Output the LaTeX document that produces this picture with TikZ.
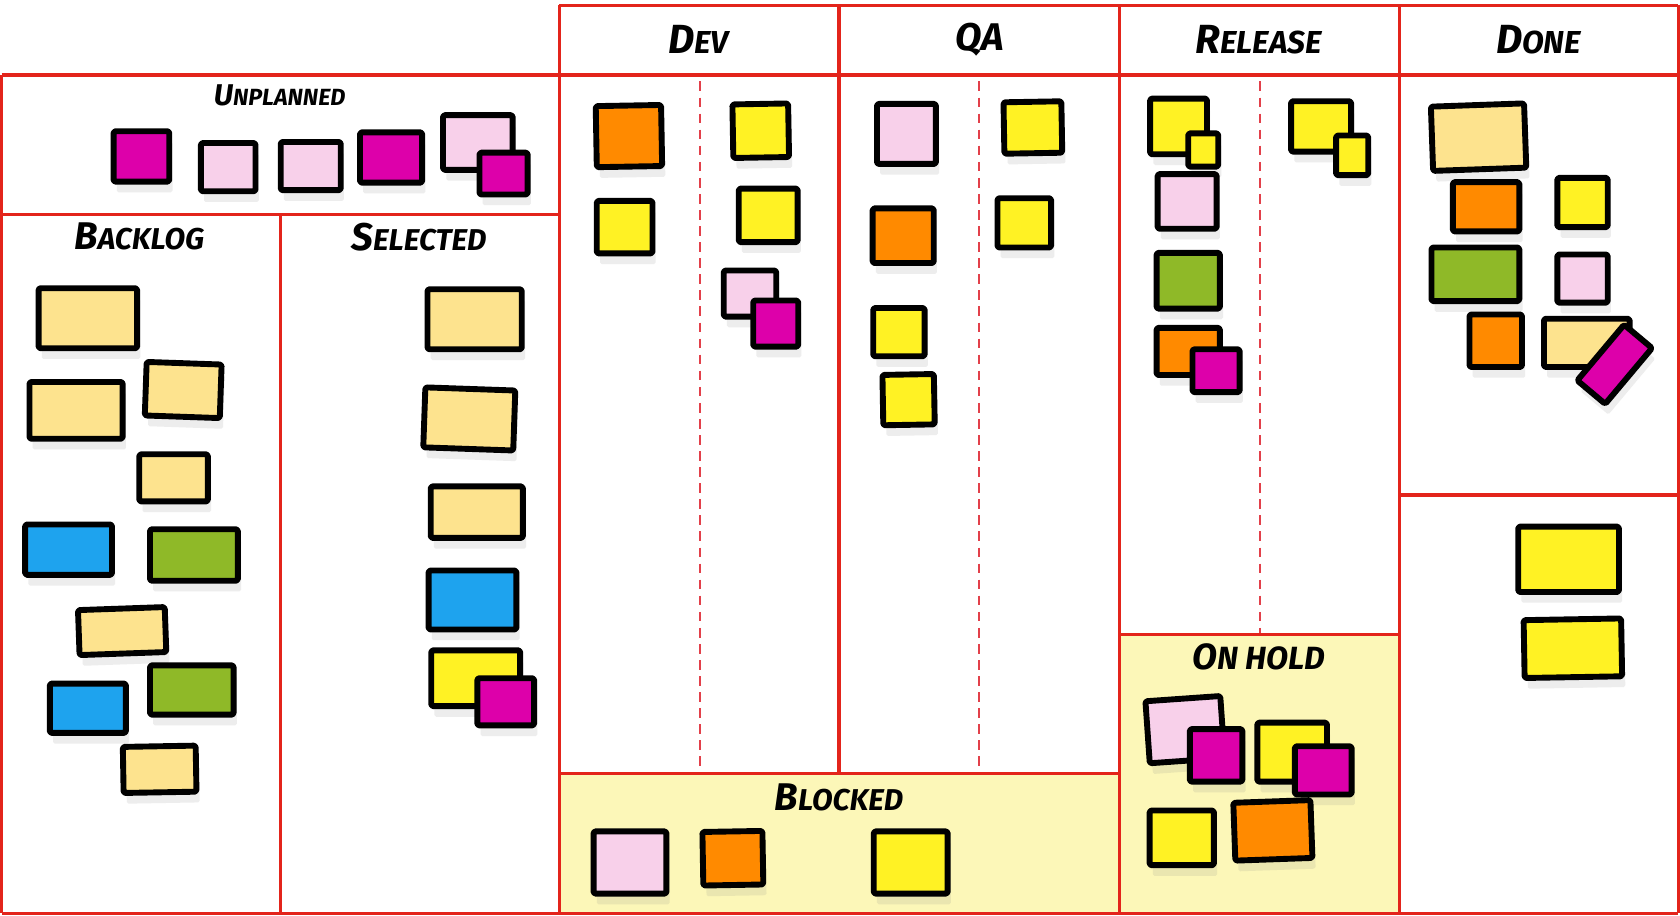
\documentclass[tikz,border=0pt]{standalone}
\usepackage{fontspec}
\newfontfamily\handfont{Fira Sans}
\usetikzlibrary{shadows}
\definecolor{cmag}{HTML}{DD00AA}
\definecolor{cpink}{HTML}{F8D0EA}
\definecolor{corange}{HTML}{FF8A00}
\definecolor{cyellow}{HTML}{FFF224}
\definecolor{cbeige}{HTML}{FDE38E}
\definecolor{cblue}{HTML}{1EA3EE}
\definecolor{cgreen}{HTML}{8FB928}
\definecolor{cred}{HTML}{E3241B}
\definecolor{cdash}{HTML}{E2404A}
\definecolor{choldbg}{HTML}{FCF7B8}
\newcommand\scl[3]{{\fontsize{#3}{#3}\selectfont #1}{\fontsize{0.78\dimexpr#3pt\relax}{#3}\selectfont #2}}
\newcommand\sn[7]{\node[sticky,fill=#5,minimum width=#3,minimum height=#4,rotate=#6] (#7) at (#1,#2) {};}
\tikzset{
  sticky/.style={draw=black,line width=5.5pt,line join=round,inner sep=0pt,rounded corners=1.5pt,
    drop shadow={opacity=0.14,shadow xshift=3pt,shadow yshift=-10pt}},
  gridline/.style={draw=cred,line width=3.2pt},
  lanedash/.style={draw=cdash,line width=1.6pt,dash pattern=on 9pt off 6pt},
  lbl/.style={font=\handfont\itshape\bfseries,inner sep=0pt,anchor=center},
}
\begin{document}
\begin{tikzpicture}[x=1pt,y=-1pt]
\useasboundingbox (0,0) rectangle (1568,854);
\fill[white] (0,0) rectangle (1568,854);
% yellow areas
\fill[choldbg] (522,722) rectangle (1045,854);
\fill[choldbg] (1045,592) rectangle (1306,854);
% dashed lane dividers
\draw[lanedash] (653,76) -- (653,722);
\draw[lanedash] (914,76) -- (914,722);
\draw[lanedash] (1176,76) -- (1176,592);
% grid
\draw[gridline] (522,5) -- (1566.5,5);
\draw[gridline] (1.5,70) -- (1566.5,70);
\draw[gridline] (1.5,200) -- (522,200);
\draw[gridline] (1.5,70) -- (1.5,852.5);
\draw[gridline] (522,5) -- (522,852.5);
\draw[gridline] (783,5) -- (783,722);
\draw[gridline] (1045,5) -- (1045,852.5);
\draw[gridline] (1306,5) -- (1306,852.5);
\draw[gridline] (1566.5,5) -- (1566.5,852.5);
\draw[gridline] (262,200) -- (262,852.5);
\draw[gridline] (522,722) -- (1045,722);
\draw[gridline] (1045,592) -- (1306,592);
\draw[gridline] (1306,462) -- (1566.5,462);
\draw[gridline] (1.5,852.5) -- (1566.5,852.5);
% labels
\node[lbl] (tdev) at (652,37) {\scl{D}{EV}{38}};
\node[lbl] (tqa) at (914,37) {{\fontsize{36}{36}\selectfont QA}};
\node[lbl] (trel) at (1175,37) {\scl{R}{ELEASE}{38}};
\node[lbl] (tdone) at (1436,37) {\scl{D}{ONE}{38}};
\node[lbl] (tunpl) at (261,89) {\scl{U}{NPLANNED}{28}};
\node[lbl] (tback) at (130,221) {\scl{B}{ACKLOG}{36}};
\node[lbl] (tsel) at (391,221) {\scl{S}{ELECTED}{36}};
\node[lbl] (tblk) at (783,744) {\scl{B}{LOCKED}{36}};
\node[lbl] (thold) at (1175,613) {{\fontsize{34}{34}\selectfont O}{\fontsize{30}{34}\selectfont N HOLD}};
% unplanned
\sn{132}{146}{52}{47}{cmag}{0}{u1}
\sn{213}{156}{51}{45}{cpink}{0}{u2}
\sn{290}{155}{56}{45}{cpink}{0}{u3}
\sn{365}{147}{58}{47}{cmag}{0}{u4}
\sn{446}{133}{65}{51}{cpink}{0}{u5}
\sn{470}{162}{45}{39}{cmag}{0}{u6}
% backlog
\sn{82}{297}{92}{56}{cbeige}{0}{b1}
\sn{71}{383}{87}{53}{cbeige}{0}{b2}
\sn{171}{364}{70}{50}{cbeige}{-2}{b3}
\sn{162}{446}{64}{44}{cbeige}{0}{b4}
\sn{64}{513}{81}{47}{cblue}{0}{b5}
\sn{181}{518}{82}{48}{cgreen}{0}{b6}
\sn{114}{589}{81}{42}{cbeige}{2}{b7}
\sn{179}{644}{78}{46}{cgreen}{0}{b8}
\sn{82}{661}{71}{46}{cblue}{0}{b9}
\sn{149}{718}{68}{43}{cbeige}{1}{b10}
% selected
\sn{443}{298}{88}{56}{cbeige}{0}{s1}
\sn{438}{391}{84}{56}{cbeige}{-2}{s2}
\sn{445}{478}{86}{48}{cbeige}{0}{s3}
\sn{441}{560}{82}{55}{cblue}{0}{s4}
\sn{444}{633}{83}{52}{cyellow}{0}{s5}
\sn{472}{655}{53}{44}{cmag}{0}{s6}
% dev
\sn{587}{127}{61}{57}{corange}{1}{d1}
\sn{583}{212}{52}{49}{cyellow}{0}{d2}
\sn{710}{122}{52}{50}{cyellow}{1}{d3}
\sn{717}{201}{55}{50}{cyellow}{0}{d4}
\sn{700}{274}{49}{43}{cpink}{0}{d5}
\sn{724}{302}{42}{43}{cmag}{0}{d6}
% qa
\sn{846}{125}{55}{56}{cpink}{0}{q1}
\sn{843}{220}{57}{51}{corange}{0}{q2}
\sn{839}{310}{48}{45}{cyellow}{0}{q3}
\sn{848}{373}{48}{47}{cyellow}{1}{q4}
\sn{964}{119}{54}{48}{cyellow}{1}{q5}
\sn{956}{208}{50}{46}{cyellow}{0}{q6}
% release
\sn{1100}{118}{53}{52}{cyellow}{0}{r1}
\sn{1123}{140}{28}{31}{cyellow}{0}{r2}
\sn{1108}{188}{55}{51}{cpink}{0}{r3}
\sn{1109}{262}{59}{52}{cgreen}{0}{r4}
\sn{1109}{328}{59}{44}{corange}{0}{r5}
\sn{1135}{346}{44}{40}{cmag}{0}{r6}
\sn{1233}{118}{56}{47}{cyellow}{0}{r7}
\sn{1262}{145}{30}{37}{cyellow}{0}{r8}
% done
\sn{1380}{128}{87}{60}{cbeige}{2}{dn1}
\sn{1387}{193}{62}{46}{corange}{0}{dn2}
\sn{1477}{189}{47}{46}{cyellow}{0}{dn3}
\sn{1377}{256}{82}{50}{cgreen}{0}{dn4}
\sn{1477}{260}{47}{45}{cpink}{0}{dn5}
\sn{1396}{318}{49}{49}{corange}{0}{dn6}
\sn{1481}{320}{80}{45}{cbeige}{0}{dn7}
\sn{1507}{340}{68}{34}{cmag}{50}{dn8}
\sn{1464}{522}{94}{61}{cyellow}{0}{dl1}
\sn{1468}{605}{91}{54}{cyellow}{1}{dl2}
% on hold
\sn{1106}{681}{70}{58}{cpink}{4}{h1}
\sn{1135}{705}{49}{49}{cmag}{0}{h2}
\sn{1206}{702}{65}{55}{cyellow}{0}{h3}
\sn{1235}{719}{53}{45}{cmag}{0}{h4}
\sn{1103}{782}{60}{51}{cyellow}{0}{h5}
\sn{1188}{775}{72}{54}{corange}{2}{h6}
% blocked
\sn{588}{805}{68}{58}{cpink}{0}{k1}
\sn{684}{801}{56}{50}{corange}{1}{k2}
\sn{850}{805}{69}{58}{cyellow}{0}{k3}
\end{tikzpicture}
\end{document}
